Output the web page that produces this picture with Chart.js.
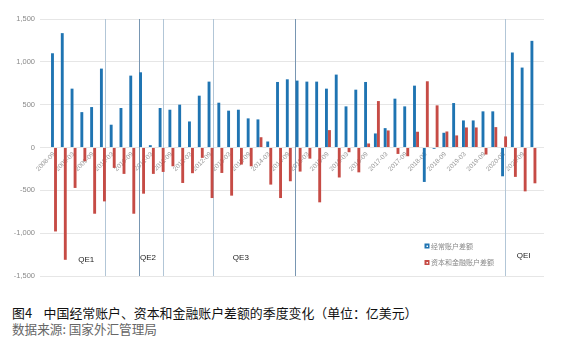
<!DOCTYPE html>
<html><head><meta charset="utf-8">
<script src="https://cdn.jsdelivr.net/npm/chart.js@4"></script>
<style>
html,body{margin:0;padding:0;background:#fff;width:570px;height:356px;overflow:hidden}
#wrap{position:absolute;left:0;top:0;width:570px;height:290px}
#t1{position:absolute;left:12px;top:306px;font-size:12.9px;font-family:"Noto Sans CJK SC";color:#111;white-space:nowrap;line-height:14px}
#t2{position:absolute;left:12px;top:322px;font-size:12.6px;font-family:"Noto Sans CJK SC";color:#666;white-space:nowrap;line-height:14px}
</style></head>
<body>
<div id="wrap"><canvas id="c" width="570" height="290"></canvas></div>
<div id="t1">图4&nbsp;&nbsp;&nbsp;&nbsp;中国经常账户、资本和金融账户差额的季度变化（单位：亿美元）</div>
<div id="t2">数据来源: 国家外汇管理局</div>
<script>
const categories = ["2008-09","2008-12","2009-03","2009-06","2009-09","2009-12","2010-03","2010-06","2010-09","2010-12",
"2011-03","2011-06","2011-09","2011-12","2012-03","2012-06","2012-09","2012-12","2013-03","2013-06",
"2013-09","2013-12","2014-03","2014-06","2014-09","2014-12","2015-03","2015-06","2015-09","2015-12",
"2016-03","2016-06","2016-09","2016-12","2017-03","2017-06","2017-09","2017-12","2018-03","2018-06",
"2018-09","2018-12","2019-03","2019-06","2019-09","2019-12","2020-03","2020-06","2020-09","2020-12"];
const currentAccount = [1100,1335,687,413,472,921,266,461,839,878,
27,461,441,500,304,605,769,523,430,441,
340,328,70,765,796,781,769,769,687,851,
480,675,765,164,226,570,480,722,-402,-15,
172,519,316,316,422,422,-336,1109,933,1245];
const capitalFinancial = [-980,-1311,-472,-160,-773,-629,-238,-308,-773,-539,
-308,-285,-219,-414,-300,-121,-590,-297,-562,-199,
-219,120,-433,-590,-394,-281,-130,-640,203,-350,
-55,-290,47,542,199,-75,-102,184,773,492,
187,141,234,234,-82,238,129,-343,-512,-418];
const seriesNames = ["经常账户差额","资本和金融账户差额"];
const tickIndex = categories.map((c,i)=>i).filter(i=>i%2===0);
const yTicks = [-1500,-1000,-500,0,500,1000,1500];
// QE event markers (in category-index units) and labels
const qeLines = [5.2, 8.7, 11.1, 16.2, 24.6, 46.1];
const qeLineDark = [false, true, false, false, true, false];
const qeLabels = [{t:"QE1",x:3.3,y:-1310},{t:"QE2",x:9.6,y:-1290},{t:"QE3",x:19.1,y:-1290},{t:"QEI",x:48.0,y:-1265}];

const BLUE = '#1f74b2', RED = '#c64b45';

const overlay = {
  id:'overlay',
  beforeDatasetsDraw(chart){
    const {ctx, chartArea:a, scales:{x}} = chart;
    ctx.save();
    qeLines.forEach((v,i)=>{
      const px = Math.round(x.getPixelForValue(v))+0.5;
      ctx.strokeStyle = qeLineDark[i] ? '#7896b2' : '#b2c6d7';
      ctx.lineWidth = 1;
      ctx.beginPath(); ctx.moveTo(px,a.top); ctx.lineTo(px,a.bottom); ctx.stroke();
    });
    ctx.restore();
  },
  afterDatasetsDraw(chart, args, opts){
    const {ctx, scales:{x,y}} = chart;
    ctx.save();
    ctx.font = '8px "Liberation Sans"';
    ctx.fillStyle = '#222';
    ctx.textAlign='center'; ctx.textBaseline='middle';
    qeLabels.forEach(l=>ctx.fillText(l.t, x.getPixelForValue(l.x), y.getPixelForValue(l.y)));
    // legend
    ctx.font = '7px "Noto Sans CJK SC"';
    ctx.textAlign='left';
    chart.data.datasets.forEach((d,i)=>{
      const lx = opts.x, ly = opts.y + i*opts.gap;
      ctx.fillStyle = d.backgroundColor;
      ctx.fillRect(lx-2.5, ly-2.5, 5, 5);
      ctx.fillStyle = '#fff';
      ctx.fillRect(lx-0.5, ly-0.5, 1.5, 1.5);
      ctx.fillStyle = '#888';
      ctx.fillText(d.label, lx+4, ly);
    });
    ctx.restore();
  }
};

new Chart(document.getElementById('c'), {
  type:'bar',
  data:{
    datasets:[
      {label:seriesNames[0], data:currentAccount.map((v,i)=>({x:i,y:v})), backgroundColor:BLUE, categoryPercentage:0.62, barPercentage:0.95},
      {label:seriesNames[1], data:capitalFinancial.map((v,i)=>({x:i,y:v})), backgroundColor:RED, categoryPercentage:0.62, barPercentage:0.95}
    ]
  },
  options:{
    responsive:false, animation:false,
    layout:{padding:{top:19,right:26,bottom:14,left:0}},
    plugins:{legend:{display:false}, tooltip:{enabled:false}, overlay:{x:427,y:246,gap:16.5}},
    scales:{
      x:{type:'linear', min:-0.4, max:49.05, position:{y:0},
        grid:{display:false, drawTicks:false}, border:{display:false},
        afterBuildTicks:s=>{ s.ticks = tickIndex.map(v=>({value:v})); },
        ticks:{autoSkip:false, minRotation:45, maxRotation:45, padding:3, color:'#9a9a9a',
          font:{size:6.5, family:'Liberation Sans'}, callback:v=>categories[v]}},
      y:{min:-1500, max:1500, afterFit:s=>{s.width=40;},
        afterBuildTicks:s=>{ s.ticks = yTicks.map(v=>({value:v})); },
        grid:{color:'#e6e6e6', drawTicks:false}, border:{display:false},
        ticks:{padding:5, color:'#8a8a8a', font:{size:7.5, family:'Liberation Sans'}, callback:v=>v.toLocaleString('en-US')}}
    }
  },
  plugins:[overlay]
});
</script>
</body></html>
